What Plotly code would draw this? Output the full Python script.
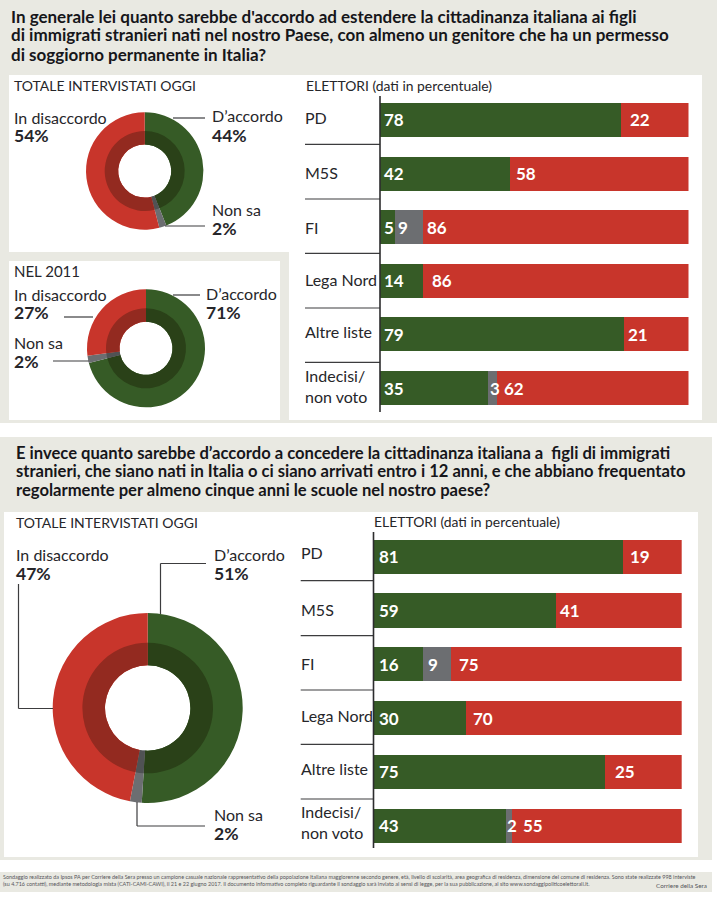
import plotly.graph_objs as go

W, H = 717, 900

GREEN = "#365b26"
GREEN_DARK = "#2a4118"
RED = "#c8352b"
RED_DARK = "#932a20"
GREY = "#6c6e71"
GREY_DARK = "#505254"
PANEL = "#e9e9e2"
INK = "#26262a"
FONT = "Lato"

# --- data ---
parties = ["PD", "M5S", "FI", "Lega Nord", "Altre liste", "Indecisi/<br>non voto"]

agree_1 = [78, 42, 5, 14, 79, 35]
dunno_1 = [0, 0, 9, 0, 0, 3]
disagree_1 = [22, 58, 86, 86, 21, 62]

agree_2 = [81, 59, 16, 30, 75, 43]
dunno_2 = [0, 0, 9, 0, 0, 2]
disagree_2 = [19, 41, 75, 70, 25, 55]

donut_today_1 = [44, 2, 54]
donut_2011 = [71, 2, 27]
donut_today_2 = [51, 2, 47]

title_1 = [
    "In generale lei quanto sarebbe d'accordo ad estendere la cittadinanza italiana ai figli",
    "di immigrati stranieri nati nel nostro Paese, con almeno un genitore che ha un permesso",
    "di soggiorno permanente in Italia?",
]
title_2 = [
    "E invece quanto sarebbe d’accordo a concedere la cittadinanza italiana a  figli di immigrati",
    "stranieri, che siano nati in Italia o ci siano arrivati entro i 12 anni, e che abbiano frequentato",
    "regolarmente per almeno cinque anni le scuole nel nostro paese?",
]
footer = [
    "Sondaggio realizzato da Ipsos PA per Corriere della Sera presso un campione casuale nazionale rappresentativo della popolazione italiana maggiorenne secondo genere, età, livello di scolarità, area geografica di residenza, dimensione del comune di residenza. Sono state realizzate 998 interviste",
    "(su 4.716 contatti), mediante metodologia mista (CATI-CAMI-CAWI), il 21 e 22 giugno 2017. Il documento informativo completo riguardante il sondaggio sarà inviato ai sensi di legge, per la sua pubblicazione, al sito www.sondaggipoliticoelettorali.it.",
]


def fx(x):
    return x / W


def fy(y):
    return 1 - y / H


shapes = []
annotations = []


def rect(x0, y0, x1, y1, color):
    shapes.append(dict(type="rect", xref="paper", yref="paper", x0=fx(x0), x1=fx(x1),
                       y0=fy(y0), y1=fy(y1), fillcolor=color, line_width=0, layer="below"))


def line(x0, y0, x1, y1, color="#3c3c3e", width=1.2):
    shapes.append(dict(type="line", xref="paper", yref="paper", x0=fx(x0), x1=fx(x1),
                       y0=fy(y0), y1=fy(y1), line=dict(color=color, width=width)))


def label(x, y, text, size=16, bold=False, anchor="left", color=INK):
    # lato sits about a pixel low when centred
    annotations.append(dict(xref="paper", yref="paper", x=fx(x), y=fy(y - 1), text=text,
                            showarrow=False, xanchor=anchor, yanchor="middle", align="left",
                            borderpad=0, borderwidth=0,
                            font=dict(family=FONT, size=size, color=color,
                                      weight="bold" if bold else "normal")))


def donut_label(x, y, name, pct):
    label(x, y, name)
    label(x, y + 19, f"{pct}%", bold=True, size=17.5)


def add_donut(fig, cx, cy, r_out, r_mid, r_hole, values):
    names = ["D'accordo", "Non sa", "In disaccordo"]
    for r, hole, colors in [(r_out, r_hole / r_out, [GREEN, GREY, RED]),
                            (r_mid, r_hole / r_mid, [GREEN_DARK, GREY_DARK, RED_DARK])]:
        fig.add_trace(go.Pie(
            labels=names, values=values, sort=False, direction="clockwise", rotation=0,
            hole=hole, textinfo="none", showlegend=False,
            marker=dict(colors=colors, line=dict(width=0)),
            domain=dict(x=[fx(cx - r), fx(cx + r)], y=[fy(cy + r), fy(cy - r)]),
        ))


def add_bars(fig, xa, ya, agree, dunno, disagree, shifts):
    for vals, color, name in [(agree, GREEN, "D'accordo"), (dunno, GREY, "Non sa"),
                              (disagree, RED, "In disaccordo")]:
        fig.add_trace(go.Bar(y=parties, x=vals, orientation="h", marker=dict(color=color, line_width=0),
                             name=name, xaxis=xa, yaxis=ya, showlegend=False))
    i = 0
    for p, a, d, n in zip(parties, agree, dunno, disagree):
        start = 0
        for v in (a, d, n):
            if v:
                annotations.append(dict(
                    xref=xa, yref=ya, x=start, y=p, text=str(v), showarrow=False,
                    xanchor="left", yanchor="middle", xshift=shifts[i], borderpad=0,
                    font=dict(family=FONT, size=17, color="white", weight="bold")))
                i += 1
            start += v


fig = go.Figure()

# panels
rect(0, 0, W, 423, PANEL)
rect(0, 437, 712, 860, PANEL)
rect(0, 872, 712, 892, PANEL)
rect(9, 75, 289, 252, "white")
rect(289, 75, 702, 420, "white")
rect(9, 261, 280, 420, "white")
rect(4, 512, 698, 857, "white")

# titles
for text, y in zip(title_1, [18, 36, 55]):
    label(11, y, text, size=17, bold=True, color="#16161a")
for text, y in zip(title_2, [454, 472, 491]):
    label(16, y, text, size=16.6, bold=True, color="#16161a")

# first block, donuts
label(13.5, 86, "TOTALE INTERVISTATI OGGI", size=14)
label(13.5, 272, "NEL 2011", size=15)
add_donut(fig, 144.7, 171, 58.7, 40, 26.5, donut_today_1)
add_donut(fig, 146, 348.3, 59, 40, 26.5, donut_2011)
donut_label(212, 117, "D’accordo", donut_today_1[0])
donut_label(13.5, 118, "In disaccordo", donut_today_1[2])
donut_label(212, 210, "Non sa", donut_today_1[1])
donut_label(206, 294, "D’accordo", donut_2011[0])
donut_label(13.5, 295, "In disaccordo", donut_2011[2])
donut_label(13.5, 343, "Non sa", donut_2011[1])
line(173, 118, 205, 118)
line(165, 226, 205, 226)
line(173, 295, 200, 295)
line(64, 317, 93, 317)
line(53, 361, 89, 361)

# second block, donut
label(16, 523, "TOTALE INTERVISTATI OGGI", size=14)
add_donut(fig, 147.7, 708, 95, 65.3, 42.7, donut_today_2)
donut_label(214, 555, "D’accordo", donut_today_2[0])
donut_label(16, 555, "In disaccordo", donut_today_2[2])
donut_label(214, 815, "Non sa", donut_today_2[1])
line(160.5, 614, 160.5, 563.5)
line(160.5, 563.5, 206, 563.5)
line(18.5, 584, 18.5, 708.5)
line(18.5, 708.5, 53, 708.5)
line(137, 802, 137, 826)
line(137, 826, 205, 826)

# first block, bars
label(306, 86, "ELETTORI (dati in percentuale)", size=13.9)
add_bars(fig, "x", "y", agree_1, dunno_1, disagree_1,
         [3, 8, 3, 5, 3, 2, 3, 3, 8, 3, 3, 3, 1, 6])
for name, y in zip(parties, [118, 174, 228, 280, 333, 387]):
    label(305, y, name)
for y in [144.3, 199, 253.3, 308, 362.3]:
    line(305, y, 380, y)
line(380, 96, 380, 412, color="#2c2c2e", width=1.6)

# second block, bars
label(374, 522, "ELETTORI (dati in percentuale)", size=13.9)
add_bars(fig, "x2", "y2", agree_2, dunno_2, disagree_2,
         [4, 6, 4, 3, 4, 4, 7, 4, 6, 4, 9, 4, 0, 10])
for name, y in zip(parties, [553, 610, 664, 716, 769, 823]):
    label(300.5, y, name)
for y in [580.7, 635.7, 690, 744.3, 799]:
    line(300.7, y, 374, y)
line(373.5, 532, 373.5, 848, color="#2c2c2e", width=1.6)

# footer
label(3, 877.5, footer[0], size=5.45, color="#55555a")
label(3, 885, footer[1], size=5.45, color="#55555a")
label(707, 886.5, "Corriere della Sera", size=6.3, anchor="right", color="#55555a")

hidden = dict(showgrid=False, zeroline=False, showticklabels=False, ticks="", showline=False)
fig.update_layout(
    width=W, height=H, margin=dict(l=0, r=0, t=0, b=0, autoexpand=False),
    paper_bgcolor="white", plot_bgcolor="rgba(0,0,0,0)",
    barmode="stack", bargap=0.365,
    font=dict(family=FONT),
    xaxis=dict(domain=[fx(380), fx(688.5)], range=[0, 100], anchor="y", **hidden),
    yaxis=dict(domain=[fy(414.8), fy(93.2)], type="category", categoryorder="array",
               categoryarray=parties, range=[5.5, -0.5], anchor="x", **hidden),
    xaxis2=dict(domain=[fx(374), fx(681.7)], range=[0, 100], anchor="y2", **hidden),
    yaxis2=dict(domain=[fy(852.6), fy(529.8)], type="category", categoryorder="array",
                categoryarray=parties, range=[5.5, -0.5], anchor="x2", **hidden),
    shapes=shapes,
    annotations=annotations,
)

fig.write_html("out.html", config=dict(displayModeBar=False),
               post_script="document.body.style.margin='0';")
